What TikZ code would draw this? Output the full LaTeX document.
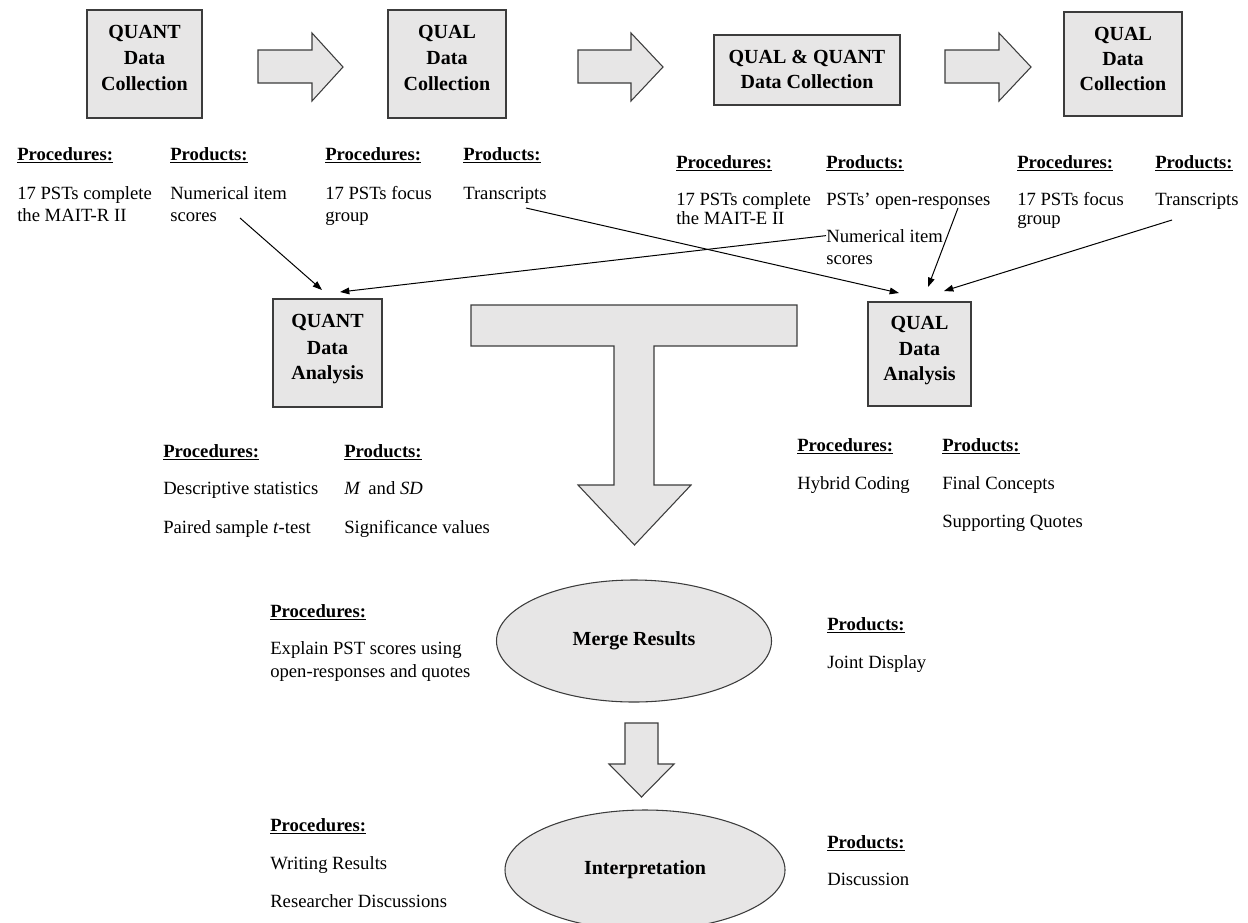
\documentclass[tikz,border=0pt]{standalone}
\usepackage{fontspec}
\setmainfont{Liberation Serif}
\usetikzlibrary{arrows.meta,shapes.geometric}
\definecolor{boxfill}{RGB}{231,230,230}
\definecolor{boxline}{RGB}{60,60,60}
\begin{document}
\begin{tikzpicture}[x=0.75pt,y=-0.75pt,
  stagebox/.style={draw=boxline, fill=boxfill, line width=1pt, inner sep=0pt},
  blockarrow/.style={draw=boxline, fill=boxfill, line width=0.8pt, line join=miter},
  boxtext/.style={font=\fontsize{15}{19.5}\selectfont\bfseries, anchor=base, inner sep=0pt},
  head/.style={font=\fontsize{14}{16}\selectfont\bfseries, anchor=base west, inner sep=0pt},
  item/.style={font=\fontsize{14}{16}\selectfont, anchor=base west, inner sep=0pt},
  conn/.style={draw=black, line width=0.75pt, -{Triangle[length=7pt,width=5pt]}},
  oval/.style={ellipse, draw=boxline, fill=boxfill, line width=0.8pt, inner sep=0pt,
    font=\fontsize{15}{18}\selectfont\bfseries}
]
\useasboundingbox (0,0) rectangle (1248,922);

% ---------- top row: data collection boxes ----------
\node[stagebox, minimum width=115*0.75pt, minimum height=108*0.75pt] (b1) at (144.5,64) {};
\node[boxtext] (b1a) at (144.5,38) {QUANT};
\node[boxtext] (b1b) at (144.5,64) {Data};
\node[boxtext] (b1c) at (144.5,90) {Collection};

\node[stagebox, minimum width=118*0.75pt, minimum height=108*0.75pt] (b2) at (447,64) {};
\node[boxtext] (b2a) at (447,38) {QUAL};
\node[boxtext] (b2b) at (447,64) {Data};
\node[boxtext] (b2c) at (447,90) {Collection};

\node[stagebox, minimum width=186*0.75pt, minimum height=70*0.75pt] (b3) at (807,70) {};
\node[boxtext] (b3a) at (807,63) {QUAL \& QUANT};
\node[boxtext] (b3b) at (807,88) {Data Collection};

\node[stagebox, minimum width=118*0.75pt, minimum height=104*0.75pt] (b4) at (1123,64) {};
\node[boxtext] (b4a) at (1123,40) {QUAL};
\node[boxtext] (b4b) at (1123,65) {Data};
\node[boxtext] (b4c) at (1123,90) {Collection};

% block arrows between boxes
\draw[blockarrow] (258,50) -- (312,50) -- (312,33) -- (343,67) -- (312,101) -- (312,83) -- (258,83) -- cycle;
\draw[blockarrow] (578,50) -- (631,50) -- (631,33) -- (663,67) -- (631,101) -- (631,83) -- (578,83) -- cycle;
\draw[blockarrow] (945,50) -- (999,50) -- (999,33) -- (1031,67) -- (999,101) -- (999,83) -- (945,83) -- cycle;

% ---------- top row texts ----------
\node[head] (h1) at (17,160) {\underline{Procedures:}};
\node[item] (t1a) at (17,199) {17 PSTs complete};
\node[item] (t1b) at (17,221) {the MAIT-R II};
\node[head] (h2) at (170,160) {\underline{Products:}};
\node[item] (t2a) at (170,199) {Numerical item};
\node[item] (t2b) at (170,221) {scores};
\node[head] (h3) at (325,160) {\underline{Procedures:}};
\node[item] (t3a) at (325,199) {17 PSTs focus};
\node[item] (t3b) at (325,221) {group};
\node[head] (h4) at (463,160) {\underline{Products:}};
\node[item] (t4a) at (463,199) {Transcripts};

\node[head] (h5) at (676,168) {\underline{Procedures:}};
\node[item] (t5a) at (676,205) {17 PSTs complete};
\node[item] (t5b) at (676,224) {the MAIT-E II};
\node[head] (h6) at (826,168) {\underline{Products:}};
\node[item] (t6a) at (826,205) {PSTs’ open-responses};
\node[item] (t6b) at (826,242) {Numerical item};
\node[item] (t6c) at (826,264) {scores};
\node[head] (h7) at (1017,168) {\underline{Procedures:}};
\node[item] (t7a) at (1017,205) {17 PSTs focus};
\node[item] (t7b) at (1017,224) {group};
\node[head] (h8) at (1155,168) {\underline{Products:}};
\node[item] (t8a) at (1155,205) {Transcripts};

% ---------- analysis boxes ----------
\node[stagebox, minimum width=109*0.75pt, minimum height=108*0.75pt] (qa) at (327.5,353) {};
\node[boxtext] (qaa) at (327.5,327) {QUANT};
\node[boxtext] (qab) at (327.5,354) {Data};
\node[boxtext] (qac) at (327.5,379) {Analysis};

\node[stagebox, minimum width=103*0.75pt, minimum height=104*0.75pt] (la) at (919.5,354) {};
\node[boxtext] (laa) at (919.5,329) {QUAL};
\node[boxtext] (lab) at (919.5,355) {Data};
\node[boxtext] (lac) at (919.5,380) {Analysis};

% ---------- connectors ----------
\coordinate (s1) at (240,218);  \coordinate (e1) at (322,290);
\coordinate (e2) at (340,292);
\coordinate (s3) at (526,208);  \coordinate (e3) at (899,293);
\coordinate (s4) at (958,208);  \coordinate (e4) at (928,287);
\coordinate (s5) at (1172,220); \coordinate (e5) at (944,291);
\draw[conn] (s1) -- (e1);
\draw[conn] (t6b.west) -- (e2);
\draw[conn] (s3) -- (e3);
\draw[conn] (s4) -- (e4);
\draw[conn] (s5) -- (e5);

% ---------- T-shaped merging arrow ----------
\draw[blockarrow] (471,305) -- (797,305) -- (797,346) -- (654,346) -- (654,485) -- (691,485)
  -- (634.5,545) -- (578,485) -- (614,485) -- (614,346) -- (471,346) -- cycle;

% ---------- analysis texts ----------
\node[head] (h9) at (163,457) {\underline{Procedures:}};
\node[item] (t9a) at (163,494) {Descriptive statistics};
\node[item] (t9b) at (163,533) {Paired sample \textit{t}-test};
\node[head] (h10) at (344,457) {\underline{Products:}};
\node[item] (t10a) at (344,494) {\textit{M}\, and \textit{SD}};
\node[item] (t10b) at (344,533) {Significance values};

\node[head] (h11) at (797,451) {\underline{Procedures:}};
\node[item] (t11a) at (797,489) {Hybrid Coding};
\node[head] (h12) at (942,451) {\underline{Products:}};
\node[item] (t12a) at (942,489) {Final Concepts};
\node[item] (t12b) at (942,527) {Supporting Quotes};

% ---------- merge results ----------
\node[oval, minimum width=275*0.75pt, minimum height=122*0.75pt] (mr) at (634,641) {Merge Results};
\node[head] (h13) at (270,617) {\underline{Procedures:}};
\node[item] (t13a) at (270,654) {Explain PST scores using};
\node[item] (t13b) at (270,677) {open-responses and quotes};
\node[head] (h14) at (827,630) {\underline{Products:}};
\node[item] (t14a) at (827,668) {Joint Display};

\draw[blockarrow] (625,723) -- (658,723) -- (658,764) -- (674,764) -- (641.5,797) -- (609,764) -- (625,764) -- cycle;

% ---------- interpretation ----------
\node[oval, minimum width=280*0.75pt, minimum height=120*0.75pt] (ip) at (645,870) {Interpretation};
\node[head] (h15) at (270,831) {\underline{Procedures:}};
\node[item] (t15a) at (270,869) {Writing Results};
\node[item] (t15b) at (270,907) {Researcher Discussions};
\node[head] (h16) at (827,848) {\underline{Products:}};
\node[item] (t16a) at (827,885) {Discussion};
\end{tikzpicture}
\end{document}
